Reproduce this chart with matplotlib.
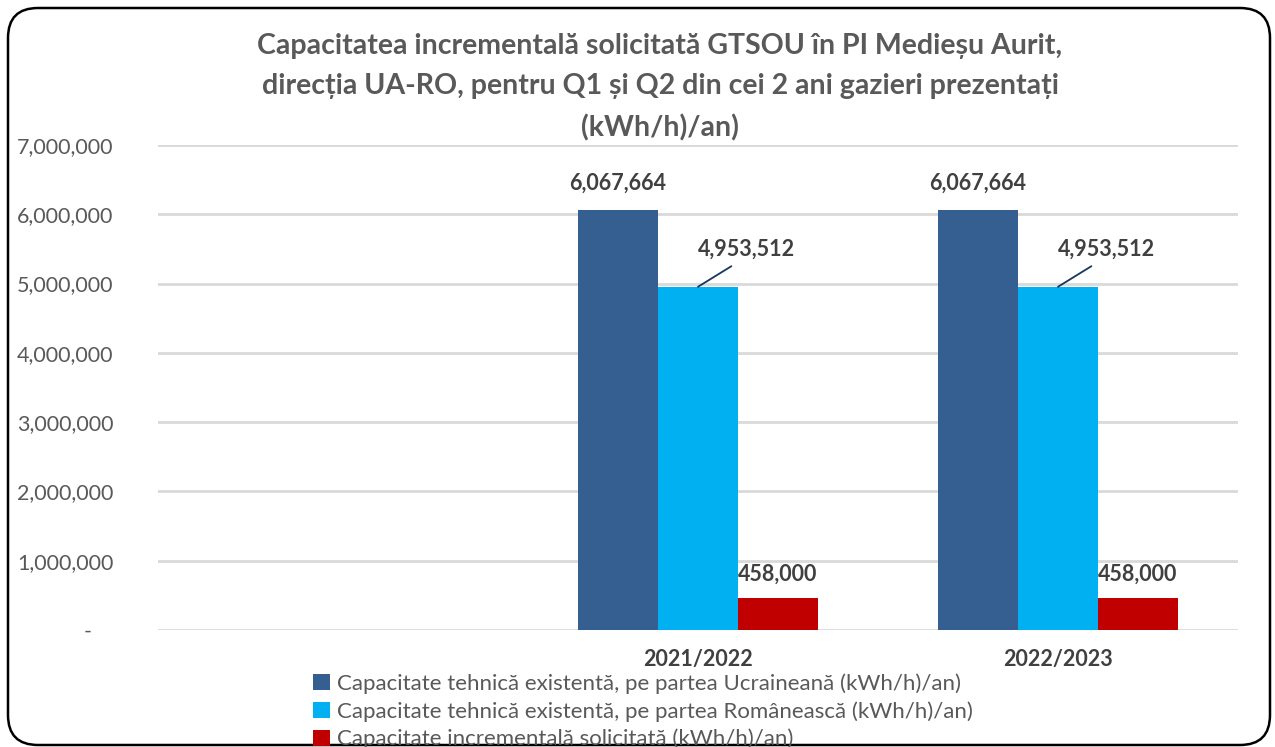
import matplotlib
matplotlib.use("Agg")
import matplotlib.pyplot as plt
from matplotlib.patches import FancyBboxPatch
from matplotlib.transforms import IdentityTransform
import numpy as np

plt.rcParams['font.family'] = ['Lato', 'DejaVu Sans']

categories = ["", "2021/2022", "2022/2023"]
series_names = [
    "Capacitate tehnică existentă, pe partea Ucraineană (kWh/h)/an)",
    "Capacitate tehnică existentă, pe partea Românească (kWh/h)/an)",
    "Capacitate incrementală solicitată (kWh/h)/an)",
]
ukr = [np.nan, 6067664, 6067664]
rom = [np.nan, 4953512, 4953512]
inc = [np.nan, 458000, 458000]
colors = ["#365F91", "#00B0F0", "#C00000"]
title = ("Capacitatea incrementală solicitată GTSOU în PI Medieșu Aurit,\n"
         "direcția UA-RO, pentru Q1 și Q2 din cei 2 ani gazieri prezentați\n"
         "(kWh/h)/an)")

W, H = 1275, 747
fig = plt.figure(figsize=(W / 100, H / 100), dpi=100)

# rounded frame (pixel coordinates)
frame = FancyBboxPatch((8, 2), 1262, 737,
                       boxstyle="round,pad=0,rounding_size=30",
                       transform=IdentityTransform(), fill=False,
                       edgecolor="black", linewidth=1.8)
fig.patches.append(frame)

ax = fig.add_axes([158 / W, 1 - 630 / H, (1238 - 158) / W, (630 - 145) / H])
x = np.arange(len(categories))
bw = 80 / 360
data = [ukr, rom, inc]
for i, (vals, c, name) in enumerate(zip(data, colors, series_names)):
    ax.bar(x + (i - 1) * bw, vals, width=bw, color=c, label=name, zorder=3)

ax.set_xlim(-0.5, len(categories) - 0.5)
ax.set_ylim(0, 7000000)
yt = np.arange(0, 7000001, 1000000)
ax.set_yticks(yt)
ax.set_yticklabels(["-    " if v == 0 else f"{v:,.0f}" for v in yt],
                   fontsize=15.5, color="#595959")
ax.tick_params(axis='y', length=0, pad=32)
ax.set_xticks(x)
ax.set_xticklabels(categories, fontsize=15.5, fontweight='bold', color="#404040")
ax.tick_params(axis='x', length=0, pad=14)
ax.grid(axis='y', color="#D9D9D9", linewidth=2, zorder=0)
for s in ax.spines.values():
    s.set_visible(False)

lab_kw = dict(fontsize=15.5, fontweight='bold', color="#404040", ha='center', va='center')
for j in range(1, len(categories)):
    xu = x[j] - bw
    ax.annotate(f"{ukr[j]:,.0f}", (xu, ukr[j]), xytext=(0, 19),
                textcoords='offset points', **lab_kw)
    ax.annotate(f"{rom[j]:,.0f}", (x[j], rom[j]), xytext=(35, 27),
                textcoords='offset points',
                arrowprops=dict(arrowstyle='-', color="#17375E", lw=1.3,
                                relpos=(0.45, 0.0), shrinkA=5, shrinkB=0),
                **lab_kw)
    ax.annotate(f"{inc[j]:,.0f}", (x[j] + bw, inc[j]), xytext=(0, 17),
                textcoords='offset points', **lab_kw)

fig.suptitle(title, x=660 / W, y=1 - 33 / H, fontsize=20.5,
             fontweight='bold', color="#595959", linespacing=1.68, va='top')

handles, labels = ax.get_legend_handles_labels()
leg = fig.legend(handles, labels, loc='upper left',
                 bbox_to_anchor=(313 / W, 1 - 673 / H), frameon=False,
                 fontsize=16, labelcolor="#595959", handlelength=0.75,
                 handleheight=0.75, handletextpad=0.35, labelspacing=0.33,
                 borderaxespad=0, borderpad=0)

fig.savefig("out.png", dpi=100)
